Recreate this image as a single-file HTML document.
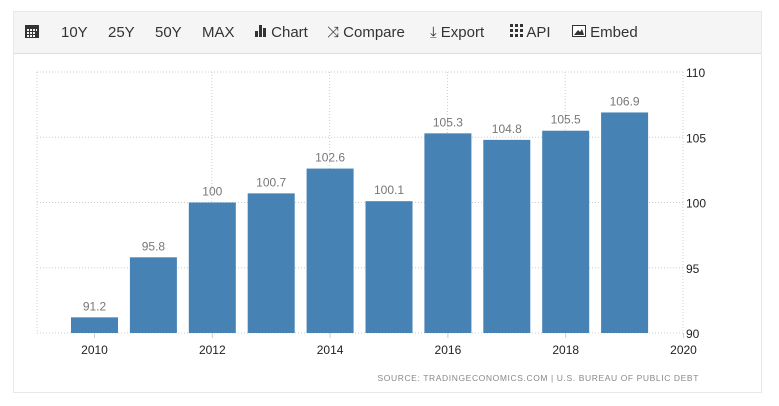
<!DOCTYPE html>
<html><head><meta charset="utf-8"><style>
body{margin:0;width:779px;height:406px;background:#fff;font-family:"Liberation Sans",sans-serif;overflow:hidden;position:relative}
#panel{position:absolute;left:13px;top:11px;width:749px;height:382px;border:1px solid #e8e8e8;box-sizing:border-box}
#toolbar{position:absolute;left:0;top:0;width:747px;height:41px;background:#f5f5f5;border-bottom:1px solid #ddd;font-size:15px;color:#333}
#toolbar span{position:absolute;top:12px;white-space:nowrap}
</style></head><body>
<div id="panel">
<div id="toolbar">
<span style="left:11px;top:11px"><svg width="14" height="15"><rect x="0" y="2" width="14" height="13" fill="#333"/><g fill="#f5f5f5"><rect x="2" y="6" width="2" height="2"/><rect x="5" y="6" width="2" height="2"/><rect x="8" y="6" width="2" height="2"/><rect x="11" y="6" width="1" height="2"/><rect x="2" y="9" width="2" height="2"/><rect x="5" y="9" width="2" height="2"/><rect x="8" y="9" width="2" height="2"/><rect x="2" y="12" width="2" height="2"/><rect x="5" y="12" width="2" height="2"/><rect x="8" y="12" width="2" height="2"/></g></svg></span>
<span style="left:47px">10Y</span>
<span style="left:94px">25Y</span>
<span style="left:141px">50Y</span>
<span style="left:188px">MAX</span>
<span style="left:241px"><svg width="12" height="13"><rect x="0" y="7" width="3" height="6" fill="#333"/><rect x="4" y="1" width="3" height="12" fill="#333"/><rect x="8" y="4" width="3" height="9" fill="#333"/></svg> Chart</span>
<span style="left:313px">⤨ Compare</span>
<span style="left:416px">⤓ Export</span>
<span style="left:496px"><svg width="13" height="13"><g fill="#333"><rect x="0" y="0" width="3" height="3"/><rect x="5" y="0" width="3" height="3"/><rect x="10" y="0" width="3" height="3"/><rect x="0" y="5" width="3" height="3"/><rect x="5" y="5" width="3" height="3"/><rect x="10" y="5" width="3" height="3"/><rect x="0" y="10" width="3" height="3"/><rect x="5" y="10" width="3" height="3"/><rect x="10" y="10" width="3" height="3"/></g></svg> API</span>
<span style="left:558px"><svg width="14" height="12"><rect x="0.5" y="0.5" width="13" height="11" fill="#fff" stroke="#333"/><path d="M2 10 L6 5 L8 7 L10 4 L12 10Z" fill="#333"/></svg> Embed</span>
</div>
</div>
<svg id="chart" width="779" height="406" style="position:absolute;left:0;top:0"></svg>
<script>
const years=[2010,2011,2012,2013,2014,2015,2016,2017,2018,2019];
const values=[91.2,95.8,100,100.7,102.6,100.1,105.3,104.8,105.5,106.9];
const valueLabels=["91.2","95.8","100","100.7","102.6","100.1","105.3","104.8","105.5","106.9"];
const yTicks=[90,95,100,105,110];
const xTicks=[2010,2012,2014,2016,2018,2020];
const svg=document.getElementById('chart');const NS='http://www.w3.org/2000/svg';
const x=v=>94.5+(v-2010)*58.9;
const y=v=>333-(v-90)*13.05;
function mk(t,a,p){const e=document.createElementNS(NS,t);for(const k in a)e.setAttribute(k,a[k]);(p||svg).appendChild(e);return e;}
yTicks.forEach(t=>{const l=mk('line',{x1:37,x2:683,y1:y(t),y2:y(t),stroke:'#ccc','stroke-dasharray':'1,2'});

const tx=mk('text',{x:686,y:y(t)+5,'font-size':12,fill:'#222'});tx.textContent=t;
});
const gl=mk('line',{x1:37,x2:37,y1:72,y2:333,stroke:'#ccc','stroke-dasharray':'1,2'});

xTicks.forEach(t=>{if(t>2010){const l=mk('line',{x1:x(t)-0.5,x2:x(t)-0.5,y1:72,y2:333,stroke:'#ccc','stroke-dasharray':'1,2'});
}
const tk=mk('line',{x1:x(t),x2:x(t),y1:333,y2:338,stroke:'#ccc'});

const tx=mk('text',{x:x(t),y:354,'font-size':12,fill:'#222','text-anchor':'middle'});tx.textContent=t;
});
years.forEach((yr,i)=>{const r=mk('rect',{x:x(yr)-23.5,y:y(values[i]),width:47,height:333-y(values[i]),fill:'#4682b4'});

const tx=mk('text',{x:x(yr),y:y(values[i])-7,'font-size':12,fill:'#777','text-anchor':'middle'});tx.textContent=valueLabels[i];
});
const src=mk('text',{x:699,y:381,'font-size':8.5,fill:'#888','text-anchor':'end','letter-spacing':'0.6'});
src.textContent='SOURCE: TRADINGECONOMICS.COM | U.S. BUREAU OF PUBLIC DEBT';

</script>
</body></html>
